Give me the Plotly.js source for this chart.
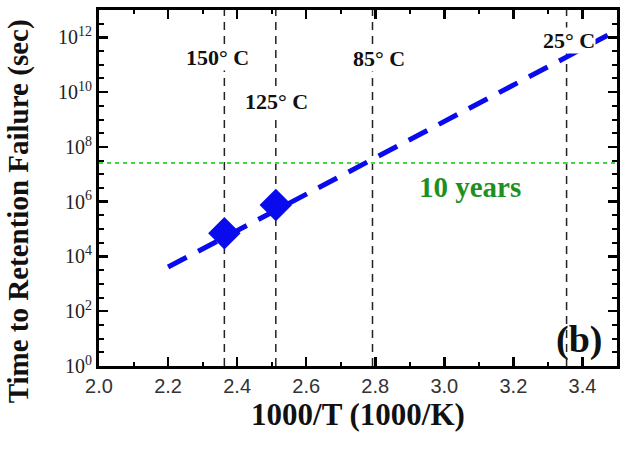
<!DOCTYPE html>
<html>
<head>
<meta charset="utf-8">
<script src="https://cdn.plot.ly/plotly-3.0.1.min.js"></script>
<style>html,body{margin:0;padding:0;background:#fff;}#chart{width:623px;height:450px;}</style>
</head>
<body>
<div id="chart"></div>
<script>
// Measured data (1000/T in 1000/K, time in seconds)
const measuredX = [2.363, 2.512];
const measuredY = [7.0e4, 7.5e5];

// Extrapolated Arrhenius fit line (end points)
const fitX = [2.2, 3.5];
const fitY = [4.1e3, 1.8e12];

// 10-year criterion line
const tenYearX = [2.0, 3.5];
const tenYearY = [2.6e7, 2.6e7];

// Temperature markers
const tempLabels = ["150° C", "125° C", "85° C", "25° C"];
const tempX = [2.363, 2.512, 2.792, 3.354];
const tempLabelX = [2.342, 2.515, 2.812, 3.362];
const tempLabelLogY = [11.28, 9.67, 11.24, 11.9];

// Y tick labels
const yTickVals = [1, 1e2, 1e4, 1e6, 1e8, 1e10, 1e12];
const yTickText = ["10<sup>0</sup>", "10<sup>2</sup>", "10<sup>4</sup>", "10<sup>6</sup>", "10<sup>8</sup>", "10<sup>10</sup>", "10<sup>12</sup>"];

const yRangeVals = [1, 1e13];

const traces = [];
tempX.forEach(function (v) {
  traces.push({
    x: [v, v], y: yRangeVals, mode: 'lines', type: 'scatter',
    line: {color: '#222', width: 1.5, dash: '8px,6px'},
    showlegend: false, hoverinfo: 'skip'
  });
});
traces.push({
  x: tenYearX, y: tenYearY, mode: 'lines', type: 'scatter',
  line: {color: '#3ddc3d', width: 2, dash: '4px,4px'},
  showlegend: false, hoverinfo: 'skip'
});
traces.push({
  x: fitX, y: fitY, mode: 'lines', type: 'scatter',
  line: {color: '#0a0aee', width: 5, dash: '21px,13px'},
  showlegend: false, hoverinfo: 'skip'
});
traces.push({
  x: measuredX, y: measuredY, mode: 'markers', type: 'scatter',
  marker: {symbol: 'diamond', size: 25, color: '#0a0aee'},
  showlegend: false, hoverinfo: 'skip'
});

const serif = 'Liberation Serif, Times New Roman, serif';
const sans = 'Liberation Sans, Arial, sans-serif';
const annotations = tempLabels.map(function (t, i) {
  return {
    x: tempLabelX[i], y: tempLabelLogY[i], xref: 'x', yref: 'y',
    text: '<b>' + t + '</b>', showarrow: false, bgcolor: '#fff',
    font: {family: serif, size: 22, color: '#111'}, borderpad: 0
  };
});
annotations.push({
  x: 3.075, y: 6.53, xref: 'x', yref: 'y', text: '<b>10 years</b>', showarrow: false,
  font: {family: serif, size: 29, color: '#1f8f1f'}
});
annotations.push({
  x: 3.39, y: 0.95, xref: 'x', yref: 'y', text: '<b>(b)</b>', showarrow: false,
  font: {family: serif, size: 38, color: '#111'}
});
annotations.push({
  x: -0.156, y: 0.435, xref: 'paper', yref: 'paper', xanchor: 'center', yanchor: 'middle',
  text: '<b>Time to Retention Failure (sec)</b>', textangle: -90, showarrow: false,
  font: {family: serif, size: 29, color: '#111'}
});

const layout = {
  width: 623, height: 450,
  margin: {l: 99, r: 6, t: 10, b: 84},
  paper_bgcolor: '#fff', plot_bgcolor: '#fff',
  showlegend: false,
  xaxis: {
    range: [2.0, 3.5], dtick: 0.2, tick0: 2.0, tickformat: '.1f',
    ticks: 'inside', ticklen: 9, tickwidth: 2.5, tickcolor: '#000',
    minor: {dtick: 0.1, ticks: 'inside', ticklen: 4, tickwidth: 2, tickcolor: '#000'},
    showline: true, linewidth: 3, linecolor: '#000', mirror: 'ticks',
    showgrid: false, zeroline: false,
    tickfont: {family: sans, size: 20, color: '#333'},
    title: {text: '<b>1000/T (1000/K)</b>', font: {family: serif, size: 31, color: '#111'}, standoff: 0}
  },
  yaxis: {
    type: 'log', range: [0, 13], tickvals: yTickVals, ticktext: yTickText,
    ticks: 'inside', ticklen: 9, tickwidth: 2.5, tickcolor: '#000',
    minor: {dtick: 0.5, ticks: 'inside', ticklen: 5, tickwidth: 2, tickcolor: '#000'},
    showline: true, linewidth: 3, linecolor: '#000', mirror: 'ticks',
    showgrid: false, zeroline: false,
    tickfont: {family: serif, size: 20, color: '#222'}
  },
  annotations: annotations
};

Plotly.newPlot('chart', traces, layout, {staticPlot: true, displayModeBar: false});
</script>
</body>
</html>
